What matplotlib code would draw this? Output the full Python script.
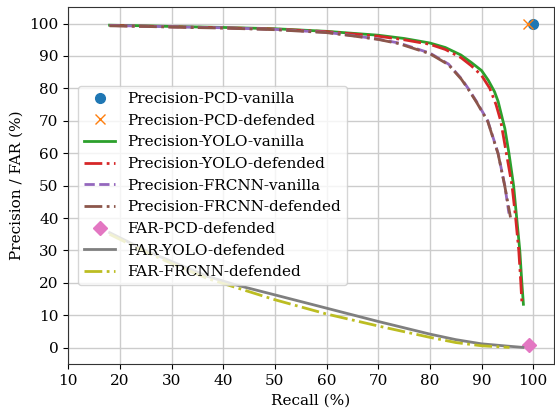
import matplotlib
matplotlib.use("Agg")
import matplotlib.pyplot as plt

plt.rcParams['font.family'] = 'DejaVu Serif'
plt.rcParams['font.size'] = 11

# -------------------------------
# Data
# -------------------------------
pcd_vanilla = (100.0, 100.0)
pcd_defended = (99.0, 100.0)
far_pcd_defended = (99.2, 0.9)

yolo_van_recall = [18, 25, 30, 40, 50, 60, 70, 75, 80, 83, 86, 88, 90, 91.3, 92.5,
                   93.2, 94.1, 94.5, 95.3, 96.2, 96.8, 97.4, 97.8, 98.1]
yolo_van_prec = [99.5, 99.3, 99.1, 98.8, 98.4, 97.6, 96.4, 95.4, 94.0, 92.6, 90.3, 88.0, 85.5, 82.5, 79.0,
                 76.0, 70.2, 67.7, 60.0, 50.0, 40.0, 30.0, 20.0, 13.4]

yolo_def_recall = [18, 25, 30, 40, 50, 60, 70, 75, 80, 83, 86, 88, 90, 91.6, 92.8,
                   93.7, 94.8, 95.9, 96.6, 97.2, 97.6, 97.8]
yolo_def_prec = [99.4, 99.2, 99.0, 98.7, 98.3, 97.5, 96.1, 95.0, 93.6, 92.0, 89.5, 87.0, 84.0, 80.0, 75.0,
                 70.0, 60.0, 50.0, 40.0, 30.0, 20.0, 14.0]

frcnn_van_recall = [18, 25, 30, 40, 50, 60, 65, 70, 74, 80, 83.6, 86.1, 87.4, 89, 91.2,
                    93.2, 94.5, 95.3]
frcnn_van_prec = [99.4, 99.2, 99.0, 98.7, 98.2, 97.3, 96.3, 95.2, 94.0, 90.9, 87.5, 83.0, 80.0, 76.0, 70.0,
                  60.0, 50.0, 41.4]

frcnn_def_recall = [18, 25, 30, 40, 50, 60, 65, 70, 74, 80, 83.6, 86.1, 87.4, 89, 91.2,
                    93.2, 94.5, 95.6]
frcnn_def_prec = [99.3, 99.1, 98.9, 98.6, 98.1, 97.2, 96.2, 95.1, 93.8, 90.7, 87.3, 82.8, 79.8, 75.8, 69.8,
                  59.8, 49.8, 40.2]

far_yolo_recall = [18, 25, 30, 37, 42.4, 50, 60, 70, 80, 85, 90, 95, 98]
far_yolo = [35.5, 30.0, 26.6, 22.0, 19.4, 16.3, 12.2, 8.1, 4.2, 2.5, 1.2, 0.5, 0.1]

far_frcnn_recall = [18, 25, 30, 37, 42.4, 50, 60, 70, 80, 85, 90, 95.4]
far_frcnn = [35.0, 29.5, 26.0, 21.3, 18.6, 14.8, 10.4, 6.7, 3.2, 1.6, 0.6, 0.1]

# -------------------------------
# Plot
# -------------------------------
fig = plt.figure(figsize=(5.55, 4.08), dpi=100)
ax = fig.add_axes([0.123, 0.108, 0.875, 0.874])

ax.plot(*pcd_vanilla, 'o', color='C0', markersize=7, label='Precision-PCD-vanilla')
ax.plot(*pcd_defended, 'x', color='C1', markersize=7, label='Precision-PCD-defended')
ax.plot(yolo_van_recall, yolo_van_prec, '-', color='C2', lw=2, label='Precision-YOLO-vanilla')
ax.plot(yolo_def_recall, yolo_def_prec, '-.', color='C3', lw=2, label='Precision-YOLO-defended')
ax.plot(frcnn_van_recall, frcnn_van_prec, '--', color='C4', lw=2, label='Precision-FRCNN-vanilla')
ax.plot(frcnn_def_recall, frcnn_def_prec, '-.', color='C5', lw=2, label='Precision-FRCNN-defended')
ax.plot(*far_pcd_defended, 'D', color='C6', markersize=7, label='FAR-PCD-defended')
ax.plot(far_yolo_recall, far_yolo, '-', color='C7', lw=2, label='FAR-YOLO-defended')
ax.plot(far_frcnn_recall, far_frcnn, '-.', color='C8', lw=2, label='FAR-FRCNN-defended')

ax.set_xlim(10, 104)
ax.set_ylim(-5, 105)
ax.set_xticks(range(10, 101, 10))
ax.set_yticks(range(0, 101, 10))
ax.grid(True, color='#cccccc', lw=1)
ax.set_axisbelow(True)
for s in ax.spines.values():
    s.set_color('#333333')

ax.set_xlabel('Recall (%)')
ax.set_ylabel('Precision / FAR (%)')
ax.legend(loc='center left', fontsize=11, bbox_to_anchor=(0.005, 0.5))

fig.savefig('out.png', dpi=100)
